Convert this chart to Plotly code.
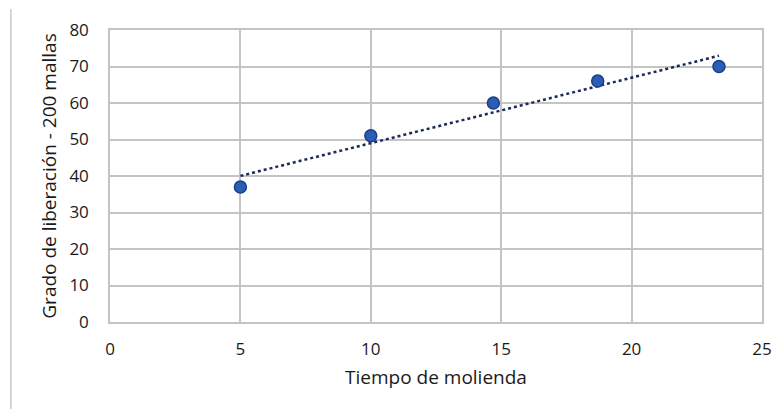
import numpy as np
import plotly.graph_objects as go

tiempo = [5, 10, 14.7, 18.7, 23.35]
grado = [37, 51, 60, 66, 70]
x_ticks = [0, 5, 10, 15, 20, 25]
y_ticks = [0, 10, 20, 30, 40, 50, 60, 70, 80]

slope, intercept = np.polyfit(tiempo, grado, 1)
trend_x = [min(tiempo), max(tiempo)]
trend_y = [slope * v + intercept for v in trend_x]

fig = go.Figure()
fig.add_trace(go.Scatter(x=trend_x, y=trend_y, mode="lines",
                         line=dict(color="#1c2a5a", width=2.5, dash="dot"),
                         showlegend=False, hoverinfo="skip"))
fig.add_trace(go.Scatter(x=tiempo, y=grado, mode="markers",
                         marker=dict(size=12, color="#2b5db5",
                                     line=dict(color="#1a3f8a", width=1.5)),
                         showlegend=False))

font = "Open Sans, Noto Sans, sans-serif"
fig.update_layout(
    width=781, height=409,
    margin=dict(l=102, r=27, t=22, b=95),
    paper_bgcolor="white", plot_bgcolor="white",
    font=dict(family=font, size=17, color="#1a1a1a"),
    xaxis=dict(range=[0, 25], tickvals=x_ticks, showgrid=True, automargin=False,
               gridcolor="#c4c4c4", gridwidth=1.5, zeroline=False,
               showline=True, linecolor="#c4c4c4", linewidth=1.5, mirror=True,
               ticks="", ticklabelstandoff=11,
               title=dict(text="Tiempo de molienda", font=dict(size=19), standoff=12)),
    yaxis=dict(range=[0, 80], tickvals=y_ticks, showgrid=True, automargin=False,
               gridcolor="#c4c4c4", gridwidth=1.5, zeroline=False,
               showline=True, linecolor="#c4c4c4", linewidth=1.5, mirror=True,
               ticks="", ticklabelstandoff=16,
               title=dict(text="Grado de liberación - 200 mallas", font=dict(size=19), standoff=8)),
    shapes=[dict(type="line", xref="paper", yref="paper", x0=-0.152, x1=-0.152,
                 y0=-0.35, y1=1.072, line=dict(color="#c8c8c8", width=1.5))],
)

fig.write_html("out.html")
